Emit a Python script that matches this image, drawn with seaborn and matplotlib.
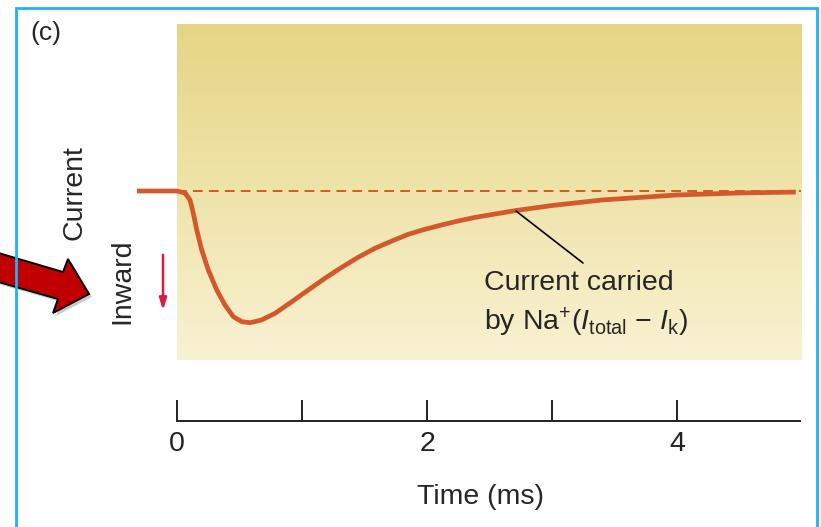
import numpy as np
import pandas as pd
import matplotlib.pyplot as plt
import seaborn as sns
from matplotlib.patches import Rectangle, Polygon
from matplotlib.colors import LinearSegmentedColormap

# Current trace (time in ms, current normalised to peak inward = -1)
time_ms = [-0.32, 0.0, 0.064, 0.104, 0.13, 0.158, 0.198, 0.25, 0.318, 0.384, 0.45,
           0.518, 0.584, 0.677, 0.784, 0.918, 1.05, 1.184, 1.318, 1.45, 1.584, 1.718,
           1.85, 1.984, 2.118, 2.25, 2.384, 2.71, 3.0, 3.4, 4.0, 4.5, 4.95]
current = [0.0, 0.0, -0.015, -0.068, -0.167, -0.295, -0.447, -0.598, -0.750, -0.864,
           -0.952, -0.990, -0.998, -0.977, -0.927, -0.839, -0.750, -0.661, -0.578,
           -0.502, -0.434, -0.379, -0.328, -0.290, -0.257, -0.227, -0.200, -0.148,
           -0.110, -0.068, -0.030, -0.015, -0.008]
tick_pos = [0, 1, 2, 3, 4]
tick_labels = ["0", "", "2", "", "4"]

df = pd.DataFrame({"time": time_ms, "current": current})

sns.set_style("white")
plt.rcParams["font.family"] = ["Liberation Sans", "DejaVu Sans"]
plt.rcParams["mathtext.fontset"] = "custom"
plt.rcParams["mathtext.rm"] = "Liberation Sans"
plt.rcParams["mathtext.it"] = "Liberation Sans:italic"

W, H = 821, 527
FS = 20.5
fig = plt.figure(figsize=(W / 100, H / 100), dpi=100)

# main drawing axes covering the whole figure (125 px per ms, 132 px per unit current)
X0, Y0, PX_T, PX_I = 177, 191, 125, 132
ax = fig.add_axes([0, 0, 1, 1])
ax.set_xlim((0 - X0) / PX_T, (W - X0) / PX_T)
ax.set_ylim((Y0 - H) / PX_I, Y0 / PX_I)
ax.axis("off")

def tx(px):
    return (px - X0) / PX_T

def ty(py):
    return (Y0 - py) / PX_I

# shaded background with vertical gradient
grad = np.linspace(0, 1, 256).reshape(-1, 1)
cmap = LinearSegmentedColormap.from_list("tan", ["#E6D584", "#F9F2D2"])
ax.imshow(grad, cmap=cmap, aspect="auto", origin="upper",
          extent=[0, tx(801), ty(360), ty(24)], zorder=0)

# baseline (dashed) and current trace
ax.plot([0, tx(801)], [0, 0], color="#D4582B", lw=1.4, dashes=(5, 3.2), zorder=2)
sns.lineplot(data=df, x="time", y="current", ax=ax, color="#D4582B", lw=3.4,
             zorder=3, solid_joinstyle="round", solid_capstyle="butt")
ax.set_xlabel("")
ax.set_ylabel("")

# label with leader line
ax.plot([tx(516), tx(583)], [ty(211), ty(263)], color="black", lw=1.2, zorder=4)
ax.text(tx(484), ty(283), "Current carried", fontsize=FS, ha="left", va="center")
ax.text(tx(484), ty(322),
        r"by Na$^{+}$($\mathit{I}_{\mathrm{total}}$ $-$ $\mathit{I}_{\mathrm{k}}$)",
        fontsize=FS, ha="left", va="center")

# y axis labels
ax.text(tx(74), ty(193), "Current", fontsize=FS, rotation=90, ha="center", va="center")
ax.text(tx(122), ty(281), "Inward", fontsize=FS, rotation=90, ha="center", va="center")
ax.annotate("", xy=(tx(163), ty(313)), xytext=(tx(163), ty(252)),
            arrowprops=dict(arrowstyle="-|>,head_length=0.7,head_width=0.22",
                            color="#D81B45", lw=1.8))

# panel letter
fig.text(46 / W, 1 - 33 / H, "(c)", fontsize=19, ha="center", va="center")

# big red pointer arrow (in pixel coordinates)
pts = [(-5, 252), (63, 272), (68, 259), (89, 294), (53, 313), (58, 299), (-5, 281)]
shadow = Polygon([(x + 3, H - y - 3) for x, y in pts], closed=True, transform=None,
                 facecolor="#999999", edgecolor="none", alpha=0.5, zorder=5)
arrow = Polygon([(x, H - y) for x, y in pts], closed=True, transform=None,
                facecolor="#C00000", edgecolor="black", lw=1.4, zorder=6)
fig.add_artist(shadow)
fig.add_artist(arrow)

# blue frame
frame = Rectangle((16 / W, -0.1), (817 - 16) / W, 1.1 - 8 / H, transform=fig.transFigure,
                  fill=False, edgecolor="#1FB3F0", lw=2, zorder=10)
fig.add_artist(frame)

# time axis
ax2 = fig.add_axes([X0 / W, (H - 421) / H, (800 - X0) / W, 0.05])
ax2.set_facecolor("none")
ax2.set_xlim(0, (800 - X0) / PX_T)
for s in ["top", "left", "right"]:
    ax2.spines[s].set_visible(False)
ax2.spines["bottom"].set_linewidth(1.4)
ax2.spines["bottom"].set_color("#222222")
ax2.set_yticks([])
ax2.set_xticks(tick_pos)
ax2.set_xticklabels(tick_labels, fontsize=FS)
ax2.tick_params(axis="x", bottom=True, direction="in", length=15, width=1.4, pad=7,
                colors="#222222")
ax2.set_xlabel("Time (ms)", fontsize=FS)
ax2.xaxis.set_label_coords((480 - X0) / (800 - X0), -(497 - 421) / (0.05 * H))
ax2.xaxis.label.set_va("center")

fig.savefig("out.png", dpi=100)
